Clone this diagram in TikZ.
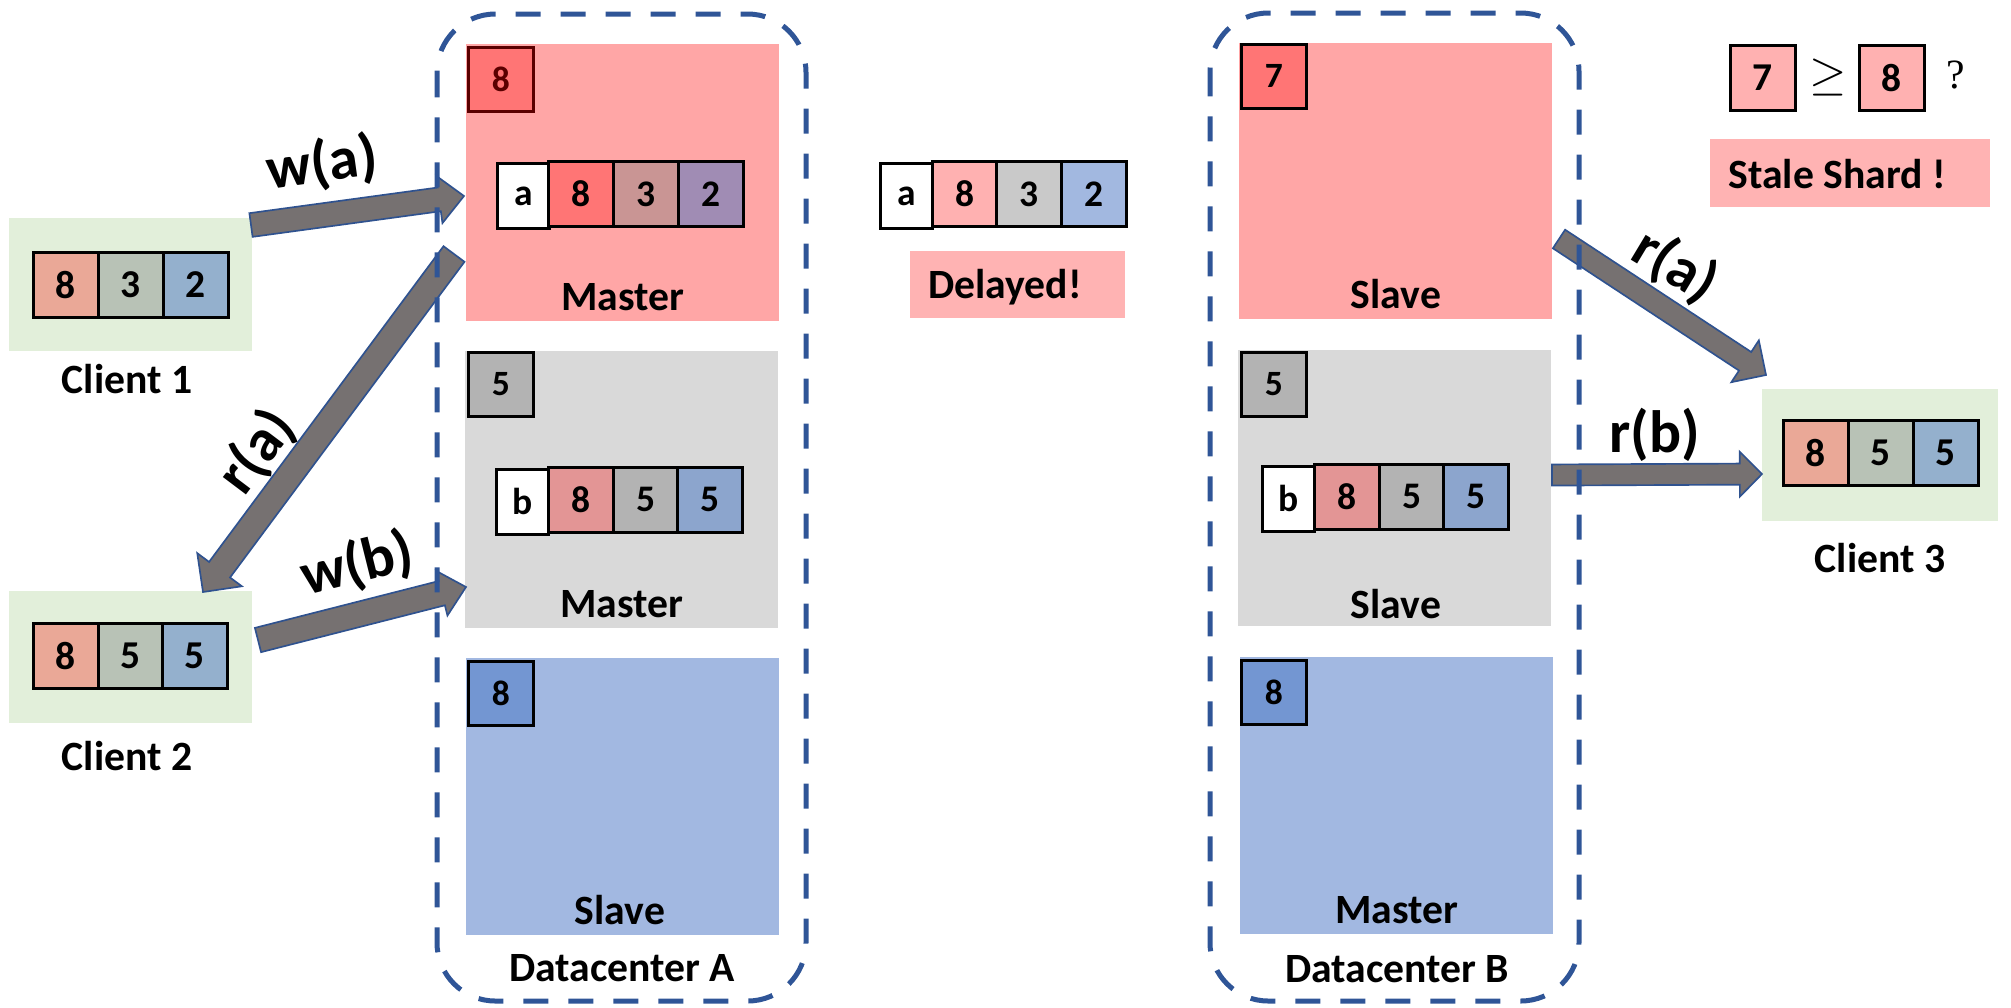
\documentclass[tikz,border=0pt]{standalone}
\usepackage{fontspec}
\setmainfont{Carlito}
\newfontfamily\serifq{Liberation Serif}
\usetikzlibrary{calc}
\definecolor{dcblue}{HTML}{2F5597}
\definecolor{arrfill}{HTML}{767171}
\definecolor{arrline}{HTML}{2F528F}
\definecolor{shardred}{HTML}{FFA6A6}
\definecolor{shardgray}{HTML}{D9D9D9}
\definecolor{shardblue}{HTML}{A2B8E1}
\definecolor{sqred}{HTML}{FF7575}
\definecolor{sqgray}{HTML}{B3B3B3}
\definecolor{sqblue}{HTML}{7396D2}
\definecolor{darkred}{HTML}{5A0000}
\definecolor{clientgreen}{HTML}{E2EFDA}
\definecolor{csalmon}{HTML}{EAA897}
\definecolor{cgreen}{HTML}{B8C2B6}
\definecolor{cblue}{HTML}{94B0CD}
\definecolor{pinkbox}{HTML}{FFB3B3}
\definecolor{rowA}{HTML}{C99594}
\definecolor{rowB}{HTML}{A08CB4}
\definecolor{rowC}{HTML}{E39595}
\definecolor{rowD}{HTML}{8CA5CD}
\definecolor{dlA}{HTML}{FFB1B1}
\definecolor{dlB}{HTML}{C9C9C9}
\definecolor{dlC}{HTML}{A2B8E0}
\newcommand{\blockarrow}[5]{%
  \coordinate (#1h) at ($(#2)!#5!(#1)$);
  \path[arrowstyle] ($(#1)!#3!90:(#2)$) -- ($(#1h)!#3!-90:(#1)$) -- ($(#1h)!#4!-90:(#1)$) -- (#2) -- ($(#1h)!#4!90:(#1)$) -- ($(#1h)!#3!90:(#1)$) -- ($(#1)!#3!-90:(#2)$) -- cycle;
}
\begin{document}
\begin{tikzpicture}[x=0.36pt,y=-0.36pt,
  arrowstyle/.style={draw=arrline, fill=arrfill, line width=0.6pt, line join=miter},
  dcbox/.style={draw=dcblue, line width=1.8pt, dash pattern=on 9pt off 7.2pt, rounded corners=21pt},
  cell/.style={draw=black, line width=1pt, inner sep=0pt, anchor=north west,
    minimum width=23.4pt, minimum height=23.4pt, font=\bfseries\fontsize{13.5}{16}\selectfont},
  ccell/.style={cell, font=\bfseries\fontsize{14.2}{17}\selectfont},
  keycell/.style={cell, minimum width=18.7pt},
  sq/.style={cell, minimum height=23pt, font=\bfseries\fontsize{12.8}{15}\selectfont},
  lbl/.style={anchor=base, inner sep=0pt, font=\bfseries\fontsize{15}{18}\selectfont},
  arrlbl/.style={inner sep=0pt, font=\bfseries\fontsize{21.5}{25}\selectfont}]
\useasboundingbox (0,0) rectangle (2011,1007);

% ---------- shard rectangles ----------
\fill[shardred]  (466,44) rectangle (779,321);
\fill[shardgray] (465,351) rectangle (778,628);
\fill[shardblue] (466,658) rectangle (779,935);
\fill[shardred]  (1239,43) rectangle (1552,319);
\fill[shardgray] (1238,350) rectangle (1551,626);
\fill[shardblue] (1240,657) rectangle (1553,934);

% ---------- client / note backgrounds ----------
\fill[clientgreen] (9,218) rectangle (252,351);
\fill[clientgreen] (9,591) rectangle (252,723);
\fill[clientgreen] (1762,389) rectangle (1998,521);
\fill[pinkbox] (910,251) rectangle (1125,318);
\fill[pinkbox] (1710,139) rectangle (1990,207);

% ---------- small version squares ----------
\node[sq, fill=sqred, draw=darkred, text=darkred] (vA1) at (467,46) {8};
\node[sq, fill=sqgray] (vA2) at (467,351) {5};
\node[sq, fill=sqblue] (vA3) at (467,660) {8};
\node[sq, fill=sqred] (vB1) at (1240,43) {7};
\node[sq, fill=sqgray] (vB2) at (1240,351) {5};
\node[sq, fill=sqblue] (vB3) at (1240,659) {8};

% ---------- rows in shards ----------
\node[keycell, fill=white] (ra0) at (496,162) {a};
\node[cell, fill=sqred] (ra1) at (547,160) {8};
\node[cell, fill=rowA] (ra2) at (612,160) {3};
\node[cell, fill=rowB] (ra3) at (677,160) {2};

\node[keycell, fill=white] (rb0) at (495,468) {b};
\node[cell, fill=rowC] (rb1) at (547,466) {8};
\node[cell, fill=sqgray] (rb2) at (612,466) {5};
\node[cell, fill=rowD] (rb3) at (676,466) {5};

\node[keycell, fill=white] (sb0) at (1261,465) {b};
\node[cell, fill=rowC] (sb1) at (1313,463) {8};
\node[cell, fill=sqgray] (sb2) at (1378,463) {5};
\node[cell, fill=rowD] (sb3) at (1442,463) {5};

% ---------- delayed row ----------
\node[keycell, fill=white] (da0) at (879,162) {a};
\node[cell, fill=dlA] (da1) at (931,160) {8};
\node[cell, fill=dlB] (da2) at (995,160) {3};
\node[cell, fill=dlC] (da3) at (1060,160) {2};

% ---------- client rows ----------
\node[ccell, fill=csalmon] (c11) at (32,251) {8};
\node[ccell, fill=cgreen] (c12) at (97,251) {3};
\node[ccell, fill=cblue] (c13) at (162,251) {2};
\node[ccell, fill=csalmon] (c21) at (32,622) {8};
\node[ccell, fill=cgreen] (c22) at (97,622) {5};
\node[ccell, fill=cblue] (c23) at (161,622) {5};
\node[ccell, fill=csalmon] (c31) at (1782,419) {8};
\node[ccell, fill=cgreen] (c32) at (1847,419) {5};
\node[ccell, fill=cblue] (c33) at (1912,419) {5};

% ---------- comparison ----------
\node[ccell, fill=dlA] (cmp1) at (1729,44) {7};
\node[inner sep=0pt, font=\fontsize{17}{20}\selectfont] (geq) at (1828,77) {$\geq$};
\node[ccell, fill=dlA] (cmp2) at (1858,44) {8};
\node[anchor=base, inner sep=0pt, font=\serifq\fontsize{15}{18}\selectfont] (qm) at (1956,88) {?};

% ---------- labels ----------
\node[lbl] (tA1) at (623,310) {Master};
\node[lbl] (tA2) at (622,617) {Master};
\node[lbl] (tA3) at (620,924) {Slave};
\node[lbl] (tA) at (622,981) {Datacenter A};
\node[lbl] (tB1) at (1396,308) {Slave};
\node[lbl] (tB2) at (1396,618) {Slave};
\node[lbl] (tB3) at (1397,923) {Master};
\node[lbl] (tB) at (1397,982) {Datacenter B};
\node[lbl] (cl1) at (127,393) {Client 1};
\node[lbl] (cl2) at (127,770) {Client 2};
\node[lbl] (cl3) at (1880,572) {Client 3};
\node[lbl] (delay) at (1005,298) {Delayed!};
\node[lbl] (stale) at (1837,188) {Stale Shard !};

% ---------- arrows ----------
\coordinate (waT) at (251,225);  \coordinate (waH) at (464,196);
\coordinate (raT) at (454,254);  \coordinate (raH) at (203,592);
\coordinate (wbT) at (258,640);  \coordinate (wbH) at (466,587);
\coordinate (rcT) at (1559,239); \coordinate (rcH) at (1766,375);
\coordinate (rdT) at (1552,475); \coordinate (rdH) at (1762,474);
\blockarrow{waT}{waH}{4.3pt}{8.6pt}{9pt}
\blockarrow{raT}{raH}{4.7pt}{10pt}{10pt}
\blockarrow{wbT}{wbH}{4.5pt}{8.3pt}{9pt}
\blockarrow{rcT}{rcH}{4pt}{9pt}{9pt}
\blockarrow{rdT}{rdH}{3.8pt}{8.1pt}{8pt}

\node[arrlbl, rotate=8] (lwa) at (322,164) {w(a)};
\node[arrlbl, rotate=53] (lra) at (257,452) {r(a)};
\node[arrlbl, rotate=14] (lwb) at (357,565) {w(b)};
\node[arrlbl, rotate=-31] (lrc) at (1675,266) {r(a)};
\node[arrlbl] (lrd) at (1655,435) {r(b)};

% ---------- datacenter boxes ----------
\draw[dcbox] (437,14) rectangle (806,1001);
\draw[dcbox] (1210,13) rectangle (1579,1001);
\end{tikzpicture}
\end{document}
